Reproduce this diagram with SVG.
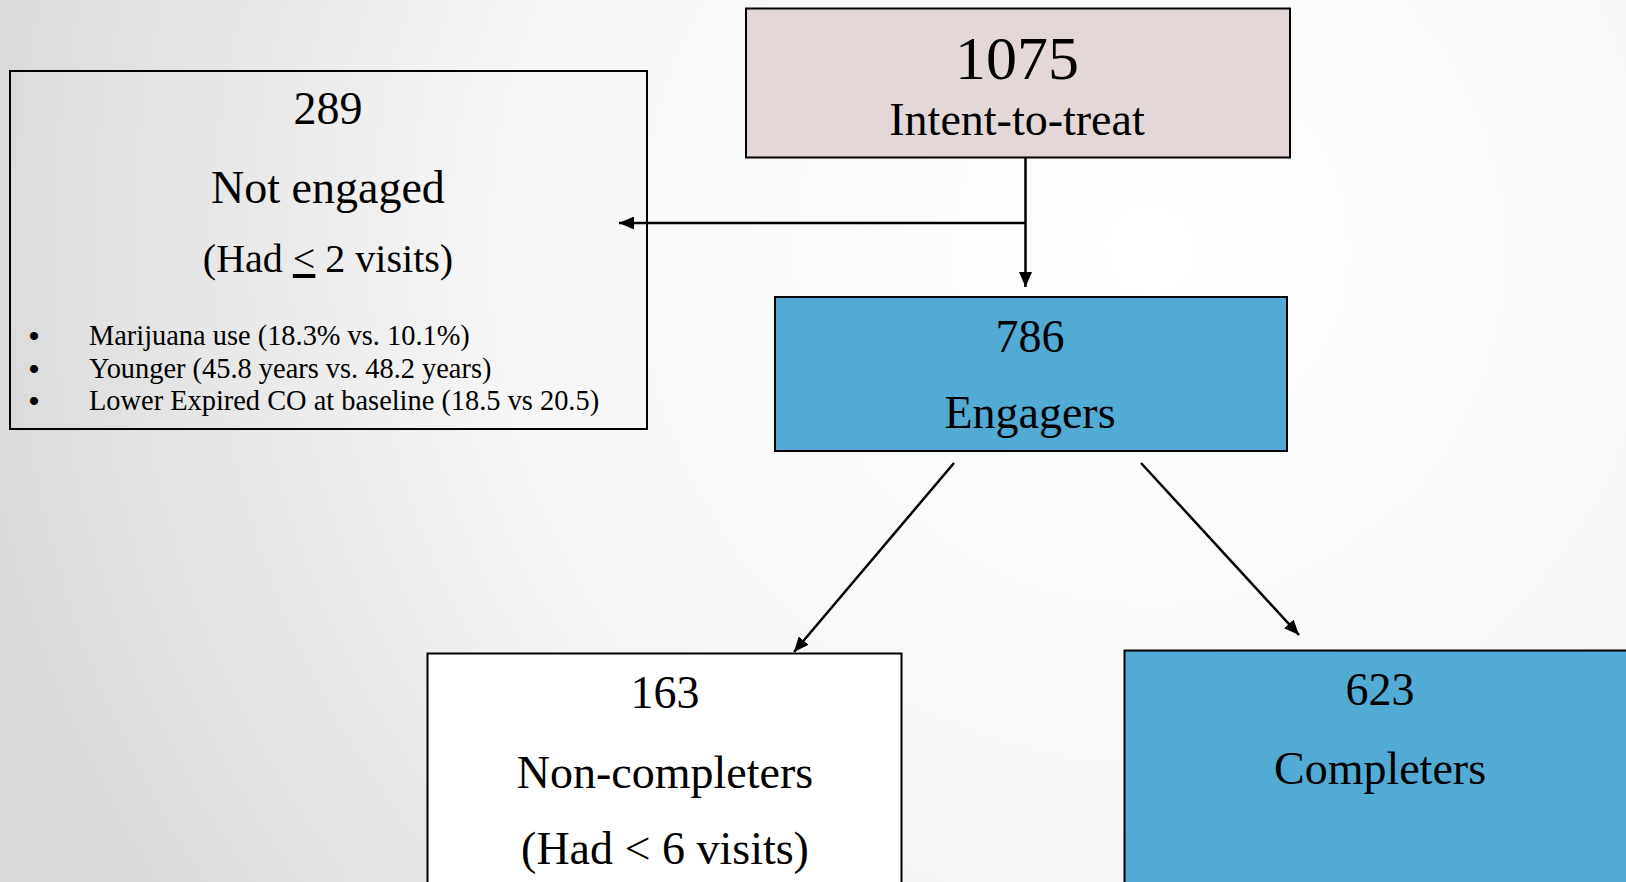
<svg xmlns="http://www.w3.org/2000/svg" width="1626" height="882" viewBox="0 0 1626 882">
<defs>
  <radialGradient id="bg" cx="1150" cy="250" r="1200" gradientUnits="userSpaceOnUse">
    <stop offset="0" stop-color="#ffffff"/>
    <stop offset="0.55" stop-color="#f6f6f6"/>
    <stop offset="1" stop-color="#d9d9d9"/>
  </radialGradient>
  <marker id="arr" viewBox="0 0 15 13" refX="15" refY="6.5" markerWidth="15" markerHeight="13" markerUnits="userSpaceOnUse" orient="auto">
    <path d="M0,0 L15,6.5 L0,13 Z" fill="#000"/>
  </marker>
  <style>
    .box { stroke: #000; stroke-width: 2; }
    .big { font-family: "Liberation Serif", "Times New Roman", serif; font-size: 46px; fill: #000; text-anchor: middle; }
    .num { font-family: "Liberation Serif", "Times New Roman", serif; font-size: 46px; fill: #000; text-anchor: middle; }
    .huge { font-size: 62px; }
    .mid { font-size: 40px; }
    .bul { font-family: "Liberation Serif", "Times New Roman", serif; font-size: 28.4px; fill: #000; }
    .dot { font-family: "Liberation Sans", Arial, sans-serif; font-size: 30px; fill: #000; text-anchor: middle; }
    .con { stroke: #000; stroke-width: 2.5; fill: none; }
  </style>
</defs>
<rect x="0" y="0" width="1626" height="882" fill="url(#bg)"/>

<g id="connectors">
  <line class="con" x1="1025.5" y1="158" x2="1025.5" y2="287" marker-end="url(#arr)"/>
  <line class="con" x1="1025.5" y1="223" x2="619" y2="223" marker-end="url(#arr)"/>
  <line class="con" x1="954" y1="463" x2="794" y2="652" marker-end="url(#arr)"/>
  <line class="con" x1="1141" y1="463" x2="1299" y2="635" marker-end="url(#arr)"/>
</g>

<g id="node-itt">
  <rect class="box" x="746" y="8.5" width="544" height="149" fill="#e3d7d7"/>
  <text class="num huge" x="1017" y="79">1075</text>
  <text class="big" x="1017" y="135">Intent-to-treat</text>
</g>

<g id="node-not-engaged">
  <rect class="box" x="10" y="71" width="637" height="358" fill="none"/>
  <text class="num" x="328" y="124">289</text>
  <text class="big" x="328" y="203">Not engaged</text>
  <text class="big mid" x="328" y="272">(Had <tspan text-decoration="underline">&lt;</tspan> 2 visits)</text>
  <text class="dot" x="34" y="346">•</text>
  <text class="bul" x="89" y="345">Marijuana use (18.3% vs. 10.1%)</text>
  <text class="dot" x="34" y="378.5">•</text>
  <text class="bul" x="89" y="377.5">Younger (45.8 years vs. 48.2 years)</text>
  <text class="dot" x="34" y="410.5">•</text>
  <text class="bul" x="89" y="409.5">Lower Expired CO at baseline (18.5 vs 20.5)</text>
</g>

<g id="node-engagers">
  <rect class="box" x="775" y="297" width="512" height="154" fill="#52abd5"/>
  <text class="num" x="1030" y="352">786</text>
  <text class="big" x="1030" y="428">Engagers</text>
</g>

<g id="node-non-completers">
  <rect class="box" x="427.5" y="653.5" width="474" height="240" fill="#ffffff"/>
  <text class="num" x="665" y="708">163</text>
  <text class="big" x="665" y="788">Non-completers</text>
  <text class="big" x="665" y="864">(Had &lt; 6 visits)</text>
</g>

<g id="node-completers">
  <rect class="box" x="1124.5" y="650.5" width="520" height="250" fill="#52abd5"/>
  <text class="num" x="1380" y="705">623</text>
  <text class="big" x="1380" y="784">Completers</text>
</g>
</svg>
